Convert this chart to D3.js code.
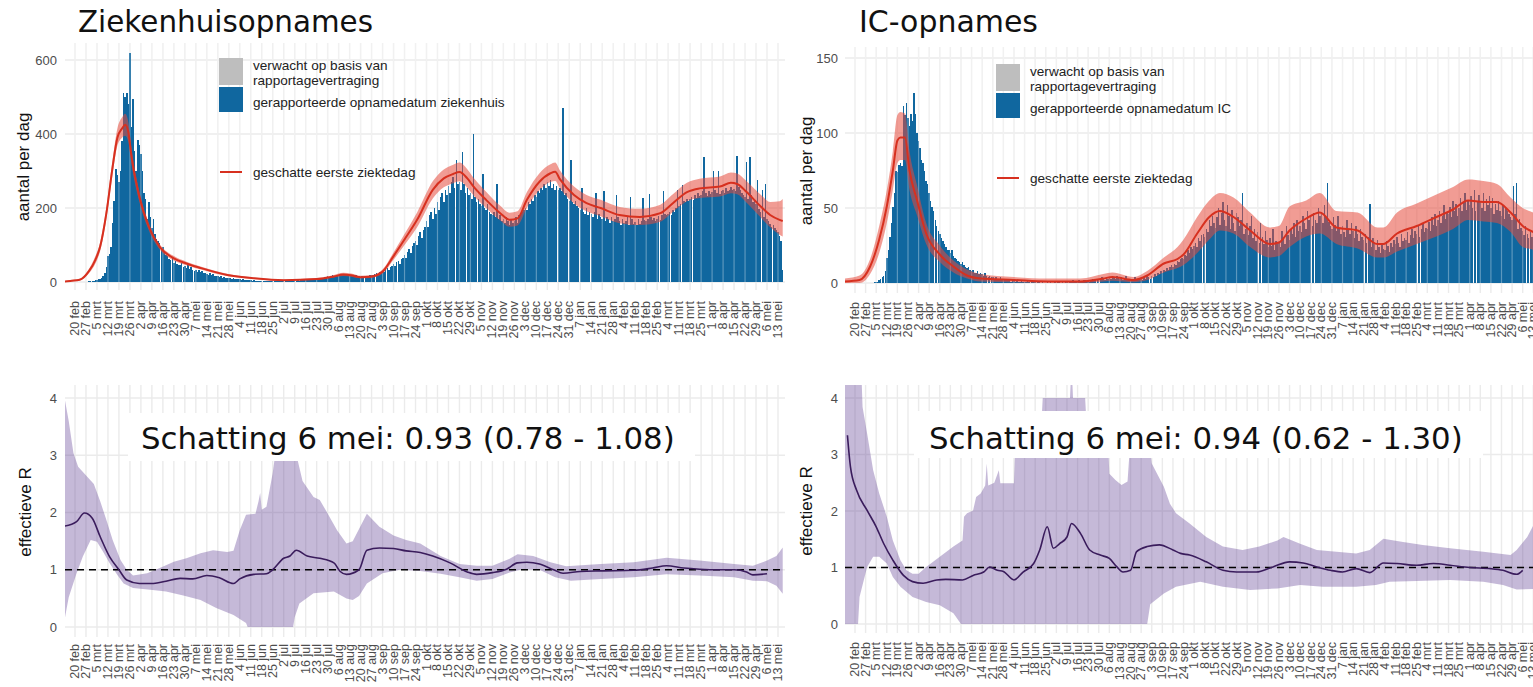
<!DOCTYPE html>
<html><head><meta charset="utf-8">
<script src="https://cdn.jsdelivr.net/npm/d3@7"></script>
<style>html,body{margin:0;padding:0;background:#fff;} svg{display:block;}</style>
</head><body>
<svg id="c" width="1533" height="687"></svg>
<script>
// ---------------- DATA ----------------
// day offsets are counted from 20 feb 2020 (day 0)
const tickLabels = ["20 feb","27 feb","5 mrt","12 mrt","19 mrt","26 mrt","2 apr","9 apr","16 apr","23 apr","30 apr","7 mei","14 mei","21 mei","28 mei","4 jun","11 jun","18 jun","25 jun","2 jul","9 jul","16 jul","23 jul","30 jul","6 aug","13 aug","20 aug","27 aug","3 sep","10 sep","17 sep","24 sep","1 okt","8 okt","15 okt","22 okt","29 okt","5 nov","12 nov","19 nov","26 nov","3 dec","10 dec","17 dec","24 dec","31 dec","7 jan","14 jan","21 jan","28 jan","4 feb","11 feb","18 feb","25 feb","4 mrt","11 mrt","18 mrt","25 mrt","1 apr","8 apr","15 apr","22 apr","29 apr","6 mei","13 mei"];

// daily hospital admissions, first value = 13 feb 2020 (day -7)
const zkhBars = [
0,0,0,0,0,0,0, 0,0,0,0,0,1,1, 1,1,2,2,3,4,5, 6,8,9,12,15,25,40,
70,75,95,160,220,305,290, 270,300,380,510,500,510,480, 620,420,495,355,300,385,370,
345,300,240,225,170,215,175, 145,170,130,115,110,105,90, 95,80,72,70,62,60,65,
52,58,48,45,47,52,40, 42,38,46,36,40,33,30, 32,28,33,26,30,24,23, 22,20,25,18,21,16,15,
16,14,17,12,14,11,12, 10,12,9,10,8,9,7, 7,6,8,5,6,5,5, 5,4,5,4,4,3,4, 3,4,3,3,2,3,3,
3,2,3,2,2,3,2, 3,2,3,3,2,3,4, 3,4,5,4,5,6,5, 6,7,6,8,7,9,8, 9,10,11,9,12,13,14,
15,14,16,18,15,17,20, 18,20,22,19,21,18,20, 19,17,20,16,18,15,17, 14,16,13,15,14,16,18,
20,18,22,24,21,26,28, 30,27,34,38,32,40,42, 48,44,55,58,50,62,66, 72,65,82,88,78,96,105,
112,100,125,135,118,140,150, 165,150,180,190,170,200,185, 215,195,230,240,215,250,235,
260,240,270,285,255,330,265, 270,250,351,265,240,255,235, 240,225,400,230,215,225,210,
205,292,200,195,210,190,185, 180,190,175,265,170,180,165, 170,160,175,165,155,170,160,
165,175,160,180,185,190,195, 200,195,215,210,225,220,235, 230,245,240,255,250,265,255,
270,260,275,255,265,250,260, 250,255,245,470,235,240,225, 220,330,215,210,220,205,200,
195,255,190,185,200,180,190, 185,175,190,240,170,185,175, 170,245,165,175,170,160,175,
165,170,235,175,165,155,170, 160,165,175,155,230,170,158, 162,155,170,158,165,228,168,
165,170,238,175,168,172,165, 170,178,168,182,245,185,180, 185,190,182,195,188,200,250,
205,210,262,220,215,225,218, 225,230,222,235,228,240,232, 235,245,338,240,232,245,238,
242,300,248,240,300,238,245, 248,240,255,245,250,258,248, 252,245,340,258,248,240,235,
230,324,225,338,235,215,220, 210,276,198,190,250,175,265, 170,165,158,150,155,145,140,
135,125,110,32];

// daily IC admissions, first value = 13 feb 2020 (day -7)
const icBars = [
0,0,0,0,0,0,0, 0,0,0,0,0,0,0, 0,0,0,0,0,0,1, 1,1,2,3,4,5,8,
17,22,31,40,51,60,75, 74,79,80,78,118,112,120, 110,105,113,108,127,113,100,
95,90,82,80,75,68,66, 60,55,51,48,42,38,35, 33,30,28,26,24,22,22, 20,22,18,17,16,15,14,
13,14,12,11,10,11,9, 8,9,7,7,8,6,7, 6,5,7,5,4,5,4, 4,3,4,3,3,4,2, 3,2,2,3,2,1,2,
2,1,2,1,1,2,1, 1,1,2,1,0,1,1, 1,0,1,1,0,1,0, 0,1,0,1,0,0,1, 0,1,1,0,1,0,1,
1,0,1,1,2,1,1, 1,2,1,1,2,2,1, 2,1,2,3,2,2,3, 2,3,4,3,2,4,3, 4,3,5,4,3,5,4,
3,4,2,3,5,3,2, 2,3,2,4,3,2,3, 3,2,4,3,5,4,3, 5,4,6,5,7,6,8, 7,9,8,10,9,11,12,
11,13,12,15,14,16,17, 16,19,18,22,20,24,23, 25,27,24,30,28,32,33, 31,36,34,42,38,45,40,
37,44,50,39,47,54,42, 38,52,45,36,49,40,35, 47,44,38,42,60,33,36, 40,32,38,45,30,36,28,
34,27,40,31,26,35,29, 24,30,25,36,22,28,26, 27,24,35,30,26,38,32, 29,36,33,40,31,42,35,
38,34,45,40,36,48,42, 44,38,47,42,40,50,45, 46,40,52,44,67,41,38, 36,44,39,35,45,37,33,
38,34,31,42,36,33,40, 35,30,38,33,28,36,31, 29,33,27,31,53,24,30, 26,22,29,24,20,27,23,
22,28,25,21,27,24,29, 26,31,27,24,33,28,30, 29,34,27,32,36,30,35, 33,38,31,36,40,34,37,
36,41,35,44,39,46,38, 42,48,40,45,52,43,47, 46,51,44,55,48,53,45, 50,57,48,54,60,49,55,
52,58,50,62,48,55,59, 54,50,60,48,56,52,58, 50,57,46,53,49,55,48, 45,52,43,50,48,46,44,
42,65,46,67,36,43,37, 35,32,38,33,30,34,31, 30,28,25,20];

// estimated first day of illness: [day, lower, estimate, upper]
const zkhOnset = [
[-7,0,1,2],[-3,1,3,5],[3,4,6,9],[9,24,30,36],[13,50,60,70],[16,83,95,107],[20,170,186,202],
[24,292,312,332],[27,368,390,415],[30,390,415,445],[32,395,425,455],[34,378,405,432],
[36,318,340,362],[41,217,231,245],[47,140,150,160],[54,88,95,102],[63,58,64,70],[71,45,50,55],
[80,34,38,42],[97,16,19,22],[114,8,10,12],[133,3,5,7],[154,6,8,11],[165,12,15,19],[171,16,20,25],
[176,14,18,23],[182,10,13,17],[188,11,14,18],[196,23,28,34],[203,60,70,80],[210,100,115,130],
[218,148,168,188],[228,226,249,272],[235,256,280,304],[241,267,292,317],[245,272,297,323],
[250,255,280,305],[254,234,258,282],[262,200,222,244],[271,166,186,206],[277,149,168,187],
[282,153,172,191],[288,201,222,243],[296,248,271,294],[303,270,294,318],[306,273,298,323],
[309,254,278,302],[318,212,235,258],[326,191,213,235],[335,178,200,222],[347,159,181,203],
[360,154,176,198],[373,163,186,209],[381,189,213,237],[390,218,243,268],[398,227,253,279],
[411,231,258,285],[418,240,268,296],[422,237,265,293],[428,214,243,272],[437,174,204,236],
[443,148,181,216],[449,128,168,218],[451,123,165,224]];

const icOnset = [
[-7,0,1,3],[3,0,2,5],[10,6,11,16],[16,20,29,38],[21,40,51,62],[25,62,75,88],[28,80,95,112],
[30,82,97,114],[33,82,97,113],[36,62,75,88],[41,45,55,65],[47,26,33,40],[56,14,19,25],
[65,7,11,15],[74,3,5,9],[83,1,3,6],[105,0.5,2,4],[127,0,1,3],[149,0,1,3],[164,1,3,6],
[170,1.5,4,7],[184,0.5,2,4],[193,2,5,8],[204,7,13,17],[213,10,16,24],[217,12,19,29],
[226,20,33,44],[234,29,44,55],[241,35,48,60],[250,33,44,57],[261,24,35,47],[274,17,26,37],
[280,18,27,38],[287,24,35,51],[298,31,43,55],[307,33,47,60],[318,26,37,48],[332,23,35,47],
[345,17,26,37],[349,17,26,37],[358,21,33,47],[371,26,38,53],[384,31,44,59],[395,36,49,64],
[405,42,55,69],[415,41,54,68],[424,40,54,66],[433,34,47,57],[441,24,38,50],[448,22,34,47],
[451,20,33,46]];

// effective R, hospital: [day, value]
const rZkhMid = [[-7,1.76],[1,1.84],[6,1.99],[11,1.9],[16,1.58],[22,1.23],[28,1.0],[33,0.82],[41,0.76],[50,0.76],[58,0.8],[67,0.85],[75,0.84],[84,0.9],[92,0.86],[101,0.76],[105,0.84],[114,0.92],[122,0.93],[126,1.0],[133,1.2],[137,1.24],[141,1.34],[148,1.24],[156,1.2],[165,1.12],[169,0.97],[173,0.92],[181,1.0],[186,1.34],[194,1.38],[203,1.37],[211,1.33],[220,1.3],[228,1.24],[239,1.12],[250,0.96],[256,0.92],[266,0.95],[275,1.01],[282,1.12],[288,1.13],[296,1.1],[305,1.0],[311,0.94],[322,0.97],[335,0.98],[356,0.99],[368,1.03],[377,1.07],[388,1.03],[398,1.01],[411,1.0],[420,1.0],[428,0.96],[432,0.91],[441,0.93]];
const rZkhHi = [[-7,4.05],[-4,3.6],[-1,3.04],[2,2.8],[12,2.5],[16,2.2],[20,1.87],[24,1.52],[29,1.17],[33,1.0],[37,0.9],[46,0.94],[54,1.03],[63,1.14],[71,1.2],[80,1.29],[88,1.34],[97,1.31],[101,1.33],[105,1.69],[109,1.96],[115,1.98],[117,2.2],[118,2.34],[119,2.05],[122,2.1],[126,2.69],[129,3.3],[134,3.6],[139,3.4],[142,2.9],[145,2.55],[152,2.27],[156,2.22],[160,2.03],[167,1.69],[173,1.46],[177,1.5],[186,1.98],[194,1.75],[203,1.6],[211,1.52],[220,1.46],[233,1.24],[245,1.1],[256,1.07],[266,1.07],[277,1.19],[282,1.27],[292,1.24],[303,1.13],[313,1.06],[335,1.1],[356,1.13],[377,1.21],[398,1.16],[420,1.1],[432,1.07],[441,1.16],[447,1.24],[451,1.39]];
const rZkhLo = [[-7,0.07],[-4,0.52],[1,0.94],[5,1.23],[10,1.52],[14,1.49],[18,1.31],[22,1.12],[27,0.91],[31,0.76],[37,0.68],[48,0.65],[58,0.62],[69,0.55],[80,0.47],[90,0.33],[101,0.21],[109,0.07],[110,0],[139,0],[140,0.17],[143,0.41],[152,0.59],[165,0.62],[173,0.5],[177,0.47],[181,0.54],[186,0.76],[196,0.94],[207,1.0],[220,0.98],[233,0.93],[245,0.87],[256,0.81],[266,0.84],[277,0.95],[285,1.01],[296,1.0],[306,0.87],[316,0.81],[335,0.84],[356,0.87],[377,0.92],[398,0.9],[420,0.87],[432,0.81],[441,0.8],[447,0.72],[451,0.58]];

// effective R, IC: [day, value]
const rIcMid = [[-5,3.34],[-3,2.78],[1,2.37],[8,2.01],[14,1.72],[19,1.42],[25,1.13],[32,0.86],[38,0.75],[45,0.72],[54,0.78],[60,0.79],[71,0.78],[78,0.86],[85,0.92],[89,1.01],[94,0.95],[98,0.93],[105,0.78],[111,0.92],[118,1.07],[122,1.31],[127,1.72],[131,1.34],[135,1.42],[140,1.54],[143,1.78],[149,1.6],[155,1.31],[162,1.22],[168,1.16],[173,1.01],[177,0.92],[182,0.95],[186,1.28],[193,1.37],[201,1.4],[210,1.31],[215,1.25],[221,1.22],[232,1.1],[243,0.95],[252,0.92],[265,0.92],[276,1.01],[287,1.1],[296,1.08],[305,1.01],[314,0.95],[322,0.92],[331,0.98],[340,0.91],[349,1.08],[358,1.07],[371,1.04],[382,1.07],[393,1.04],[406,1.0],[420,0.98],[428,0.95],[437,0.88],[441,0.95]];
const rIcHi = [[-7,4.6],[4,4.6],[5,3.84],[8,3.37],[12,2.72],[16,2.31],[21,1.9],[25,1.48],[30,1.13],[34,0.95],[38,0.89],[42,0.89],[47,1.01],[56,1.19],[65,1.37],[71,1.48],[72,1.9],[74,1.96],[78,2.01],[80,2.25],[83,2.31],[86,2.45],[87,2.84],[88,2.45],[92,2.5],[95,2.72],[96,2.49],[105,2.49],[106,3.3],[123,3.5],[124,4.0],[142,4.0],[143,4.6],[144,4.0],[152,4.0],[153,3.5],[167,3.3],[168,2.66],[172,2.55],[176,2.46],[180,2.52],[182,3.3],[194,3.3],[196,2.84],[204,2.43],[208,2.13],[212,1.96],[221,1.78],[232,1.54],[243,1.37],[256,1.31],[267,1.37],[279,1.48],[283,1.54],[294,1.42],[305,1.31],[318,1.28],[331,1.25],[340,1.31],[349,1.51],[362,1.45],[375,1.4],[393,1.34],[415,1.28],[433,1.22],[437,1.31],[444,1.54],[451,1.9]];
const rIcLo = [[-7,0],[2,0],[3,0.48],[8,1.01],[12,1.19],[16,1.19],[21,1.07],[25,0.83],[30,0.66],[38,0.48],[47,0.39],[56,0.33],[65,0.19],[70,0],[193,0],[195,0.35],[204,0.54],[212,0.66],[228,0.75],[243,0.66],[261,0.6],[279,0.63],[294,0.69],[309,0.66],[331,0.66],[344,0.69],[353,0.75],[371,0.76],[393,0.78],[415,0.75],[428,0.69],[437,0.61],[451,0.62]];

const titles = ["Ziekenhuisopnames", "IC-opnames"];
const legendBars = ["verwacht op basis van", "rapportagevertraging"];
const legendReported = ["gerapporteerde opnamedatum ziekenhuis", "gerapporteerde opnamedatum IC"];
const legendLine = "geschatte eerste ziektedag";
const estimates = ["Schatting 6 mei: 0.93 (0.78 - 1.08)", "Schatting 6 mei: 0.94 (0.62 - 1.30)"];

// ---------------- LAYOUT ----------------
const T0 = Date.UTC(2020, 1, 20);
const toDate = d => new Date(T0 + d * 864e5);
const tickDates = tickLabels.map((l, i) => toDate(7 * i));

const C = {
  blue: "#10679f", gray: "#bebebe", red: "#d7301f", ribbonRed: "#e64a3d",
  purple: "#3a1c5c", ribbonPurple: "#5d3d94", grid: "#ebebeb", axis: "#4d4d4d"
};
const L = {
  tl: {px0:65, px1:785, py0:43, py1:290, xr:[75,778], yr:[282,60], ydom:[0,600], yticks:[0,200,400,600], ytx:57, ylabX:23, ylabY:167, xlabY:301},
  tr: {px0:845, px1:1545, py0:47, py1:293, xr:[855,1533.3], yr:[283,58], ydom:[0,150], yticks:[0,50,100,150], ytx:838, ylabX:806, ylabY:171, xlabY:302},
  bl: {px0:65, px1:785, py0:385, py1:637, xr:[75,778], yr:[627,398], ydom:[0,4], yticks:[0,1,2,3,4], ytx:57, ylabX:25, ylabY:512, xlabY:644},
  br: {px0:845, px1:1545, py0:385, py1:633, xr:[855,1533.3], yr:[624,398], ydom:[0,4], yticks:[0,1,2,3,4], ytx:838, ylabX:806, ylabY:511, xlabY:642}
};

const svg = d3.select("#c");
svg.append("rect").attr("width", 1533).attr("height", 687).attr("fill", "#fff");
const defs = svg.append("defs");
const SANS = "'Liberation Sans', Arial, Helvetica, sans-serif";
const VERD = "'DejaVu Sans', Verdana, sans-serif";

function fitWidth(sel, target) {
  const w = sel.node().getComputedTextLength();
  const fs = parseFloat(sel.attr("font-size"));
  sel.attr("font-size", (fs * target / w).toFixed(2));
}

function frame(key, ylabel) {
  const cfg = L[key];
  const x = d3.scaleUtc().domain([toDate(0), toDate(448)]).range(cfg.xr);
  const y = d3.scaleLinear().domain(cfg.ydom).range(cfg.yr);
  const g = svg.append("g");
  defs.append("clipPath").attr("id", "clip-" + key).append("rect")
    .attr("x", cfg.px0).attr("y", cfg.py0).attr("width", cfg.px1 - cfg.px0).attr("height", cfg.py1 - cfg.py0);
  // grid
  g.append("g").selectAll("line").data(cfg.yticks).join("line")
    .attr("x1", cfg.px0).attr("x2", cfg.px1).attr("y1", d => y(d)).attr("y2", d => y(d))
    .attr("stroke", C.grid).attr("stroke-width", 1.3);
  g.append("g").selectAll("line").data(tickDates).join("line")
    .attr("x1", d => x(d)).attr("x2", d => x(d)).attr("y1", cfg.py0).attr("y2", cfg.py1)
    .attr("stroke", C.grid).attr("stroke-width", 1.4);
  // y tick labels
  g.append("g").selectAll("text").data(cfg.yticks).join("text")
    .attr("x", cfg.ytx).attr("y", d => y(d)).attr("text-anchor", "end").attr("dominant-baseline", "central")
    .attr("font-family", SANS).attr("font-size", 13).attr("fill", C.axis).text(d => d);
  // x tick labels
  g.append("g").selectAll("text").data(tickDates).join("text")
    .attr("transform", d => `translate(${x(d)},${cfg.xlabY}) rotate(-90)`)
    .attr("text-anchor", "end").attr("dominant-baseline", "central")
    .attr("font-family", SANS).attr("font-size", 12.5).attr("fill", C.axis)
    .text((d, i) => tickLabels[i]);
  // y label
  g.append("text").attr("transform", `translate(${cfg.ylabX},${cfg.ylabY}) rotate(-90)`)
    .attr("text-anchor", "middle").attr("dominant-baseline", "central")
    .attr("font-family", SANS).attr("font-size", 17).attr("fill", "#111").text(ylabel);
  const plot = svg.append("g").attr("clip-path", `url(#clip-${key})`);
  return {x, y, cfg, plot};
}

function topPanel(key, bars, onset, title, titleX, titleW, legReported, leg) {
  const {x, y, cfg, plot} = frame(key, "aantal per dag");
  const dw = x(toDate(1)) - x(toDate(0));
  plot.append("g").attr("shape-rendering", "crispEdges").selectAll("rect").data(bars).join("rect")
    .attr("x", (v, i) => x(toDate(i - 7)) - dw * 0.48).attr("width", dw * 0.96)
    .attr("y", v => y(v)).attr("height", v => y(0) - y(v)).attr("fill", C.blue);
  // the weekly grid shows faintly through the gaps between the bars
  plot.append("g").selectAll("line").data(tickDates).join("line")
    .attr("x1", d => x(d)).attr("x2", d => x(d)).attr("y1", cfg.py0).attr("y2", y(0))
    .attr("stroke", "#fff").attr("stroke-opacity", 0.32).attr("stroke-width", 1.2);
  const area = d3.area().x(r => x(toDate(r[0]))).y0(r => y(r[1])).y1(r => y(r[3])).curve(d3.curveMonotoneX);
  const line = d3.line().x(r => x(toDate(r[0]))).y(r => y(r[2])).curve(d3.curveMonotoneX);
  plot.append("path").attr("d", area(onset)).attr("fill", C.ribbonRed).attr("fill-opacity", 0.55);
  plot.append("path").attr("d", line(onset)).attr("fill", "none").attr("stroke", C.red).attr("stroke-width", 2);
  // title
  const t = svg.append("text").attr("x", titleX).attr("y", 32).attr("font-family", VERD)
    .attr("font-size", 30).attr("fill", "#111").text(title);
  fitWidth(t, titleW);
  // legend
  const lg = svg.append("g").attr("font-family", SANS).attr("font-size", 13.6).attr("fill", "#222");
  lg.append("rect").attr("x", leg.x).attr("y", leg.y).attr("width", 24).attr("height", 27).attr("fill", C.gray);
  lg.append("rect").attr("x", leg.x).attr("y", leg.y + 29).attr("width", 24).attr("height", 25).attr("fill", C.blue);
  lg.append("text").attr("x", leg.x + 34).attr("y", leg.y + 7).attr("dominant-baseline", "central").text(legendBars[0]);
  lg.append("text").attr("x", leg.x + 34).attr("y", leg.y + 22).attr("dominant-baseline", "central").text(legendBars[1]);
  lg.append("text").attr("x", leg.x + 34).attr("y", leg.y + 44).attr("dominant-baseline", "central").text(legReported);
  lg.append("line").attr("x1", leg.x + 1).attr("x2", leg.x + 23).attr("y1", leg.y + 114).attr("y2", leg.y + 114)
    .attr("stroke", C.red).attr("stroke-width", 2);
  lg.append("text").attr("x", leg.x + 34).attr("y", leg.y + 114).attr("dominant-baseline", "central").text(legendLine);
}

function rPanel(key, mid, lo, hi, label, box, textX) {
  const {x, y, cfg, plot} = frame(key, "effectieve R");
  const pt = d3.line().x(r => x(toDate(r[0]))).y(r => y(r[1]));
  plot.append("path").attr("d", pt(hi.concat(lo.slice().reverse())) + "Z")
    .attr("fill", C.ribbonPurple).attr("fill-opacity", 0.36);
  plot.append("line").attr("x1", cfg.px0).attr("x2", cfg.px1).attr("y1", y(1)).attr("y2", y(1))
    .attr("stroke", "#000").attr("stroke-width", 1.4).attr("stroke-dasharray", "7,5");
  plot.append("path").attr("d", pt.curve(d3.curveMonotoneX)(mid)).attr("fill", "none")
    .attr("stroke", C.purple).attr("stroke-width", 1.6);
  svg.append("rect").attr("x", box[0]).attr("y", box[1]).attr("width", box[2]).attr("height", box[3]).attr("fill", "#fff");
  const t = svg.append("text").attr("x", textX).attr("y", 449).attr("font-family", VERD)
    .attr("font-size", 31).attr("fill", "#111").text(label);
  fitWidth(t, 534);
}

topPanel("tl", zkhBars, zkhOnset, titles[0], 78, 295, legendReported[0], {x:219, y:58});
topPanel("tr", icBars, icOnset, titles[1], 859, 179, legendReported[1], {x:996, y:64});
rPanel("bl", rZkhMid, rZkhLo, rZkhHi, estimates[0], [128, 413, 567, 48], 141);
rPanel("br", rIcMid, rIcLo, rIcHi, estimates[1], [914, 411, 569, 47], 929);
</script>
</body></html>
